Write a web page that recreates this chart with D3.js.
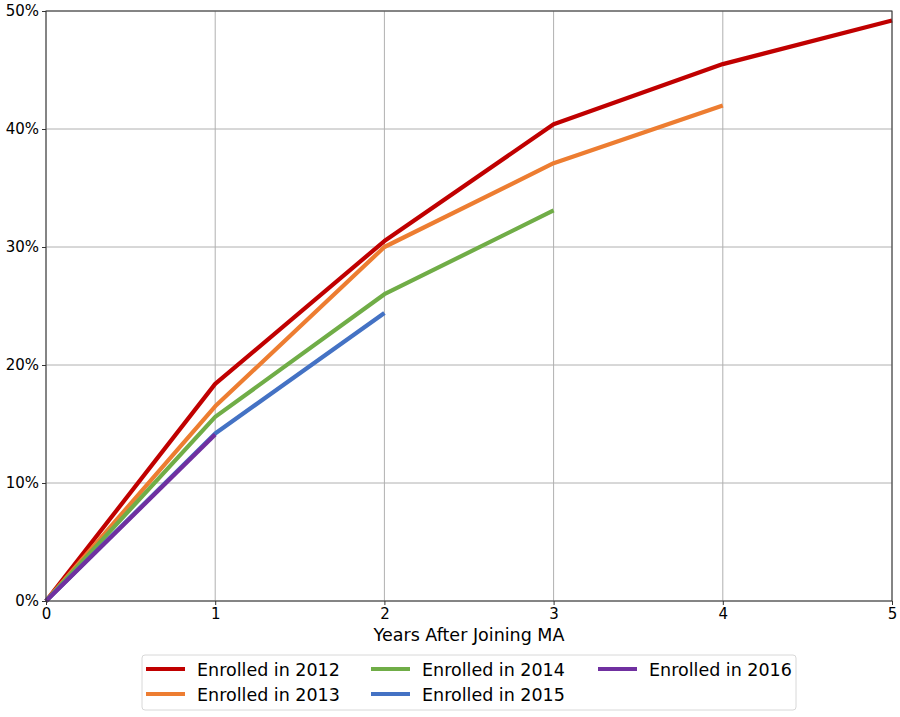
<!DOCTYPE html>
<html><head><meta charset="utf-8">
<script src="https://cdn.jsdelivr.net/npm/d3@7"></script>
<style>body{margin:0;background:#fff;font-family:"DejaVu Sans",sans-serif;}</style>
</head><body><svg id="c" width="900" height="717"></svg>
<script>
const years = [0, 1, 2, 3, 4, 5];
const yTicks = [0, 0.1, 0.2, 0.3, 0.4, 0.5];
const seriesNames = ["Enrolled in 2012", "Enrolled in 2013", "Enrolled in 2014", "Enrolled in 2015", "Enrolled in 2016"];
const colors = ["#C00000", "#ED7D31", "#70AD47", "#4472C4", "#7030A0"];
const s2012 = [0, 0.184, 0.305, 0.404, 0.455, 0.492];
const s2013 = [0, 0.165, 0.300, 0.371, 0.420];
const s2014 = [0, 0.156, 0.260, 0.331];
const s2015 = [0, 0.142, 0.244];
const s2016 = [0, 0.141];
const allSeries = [s2012, s2013, s2014, s2015, s2016];

const svg = d3.select("#c");
const m = {l: 46, r: 892, t: 11, b: 601};
const x = d3.scaleLinear().domain([0, 5]).range([m.l, m.r]);
const y = d3.scaleLinear().domain([0, 0.5]).range([m.b, m.t]);

// grid
svg.append("g").selectAll("line.v").data(years).join("line")
  .attr("x1", d => x(d)).attr("x2", d => x(d)).attr("y1", m.t).attr("y2", m.b)
  .attr("stroke", "#b0b0b0").attr("stroke-width", 1);
svg.append("g").selectAll("line.h").data(yTicks).join("line")
  .attr("x1", m.l).attr("x2", m.r).attr("y1", d => y(d)).attr("y2", d => y(d))
  .attr("stroke", "#b0b0b0").attr("stroke-width", 1);

// lines
const line = d3.line().x((d, i) => x(years[i])).y(d => y(d));
allSeries.forEach((s, k) => {
  svg.append("path").datum(s).attr("d", line).attr("fill", "none")
    .attr("stroke", colors[k]).attr("stroke-width", 4.2).attr("stroke-linejoin", "round");
});

// frame
svg.append("rect").attr("x", m.l).attr("y", m.t).attr("width", m.r - m.l).attr("height", m.b - m.t)
  .attr("fill", "none").attr("stroke", "#333").attr("stroke-width", 1);

// axes
const xa = svg.append("g").attr("transform", `translate(0,${m.b})`)
  .call(d3.axisBottom(x).tickValues(years).tickFormat(d3.format("d")).tickSize(4).tickPadding(3));
const ya = svg.append("g").attr("transform", `translate(${m.l},0)`)
  .call(d3.axisLeft(y).tickValues(yTicks).tickFormat(d3.format(".0%")).tickSize(4).tickPadding(3));
[xa, ya].forEach(a => {
  a.select(".domain").remove();
  a.selectAll("text").attr("font-size", 15).attr("font-family", "DejaVu Sans, sans-serif").attr("fill", "#000");
  a.selectAll("line").attr("stroke", "#333");
});

svg.append("text").attr("x", (m.l + m.r) / 2).attr("y", 641).attr("text-anchor", "middle")
  .attr("font-size", 17.5).attr("fill", "#000").text("Years After Joining MA");

// legend
const lg = svg.append("g");
lg.append("rect").attr("x", 142).attr("y", 655).attr("width", 654).attr("height", 55)
  .attr("rx", 3).attr("fill", "#fff").attr("stroke", "#d8d8d8");
const cols = [146, 371, 598];
seriesNames.forEach((n, k) => {
  const cx = cols[Math.floor(k / 2)];
  const cy = 669 + (k % 2) * 25;
  lg.append("line").attr("x1", cx).attr("x2", cx + 39).attr("y1", cy).attr("y2", cy)
    .attr("stroke", colors[k]).attr("stroke-width", 4.2);
  lg.append("text").attr("x", cx + 51).attr("y", cy + 6.5).attr("font-size", 17.5).attr("fill", "#000").text(n);
});
</script></body></html>
